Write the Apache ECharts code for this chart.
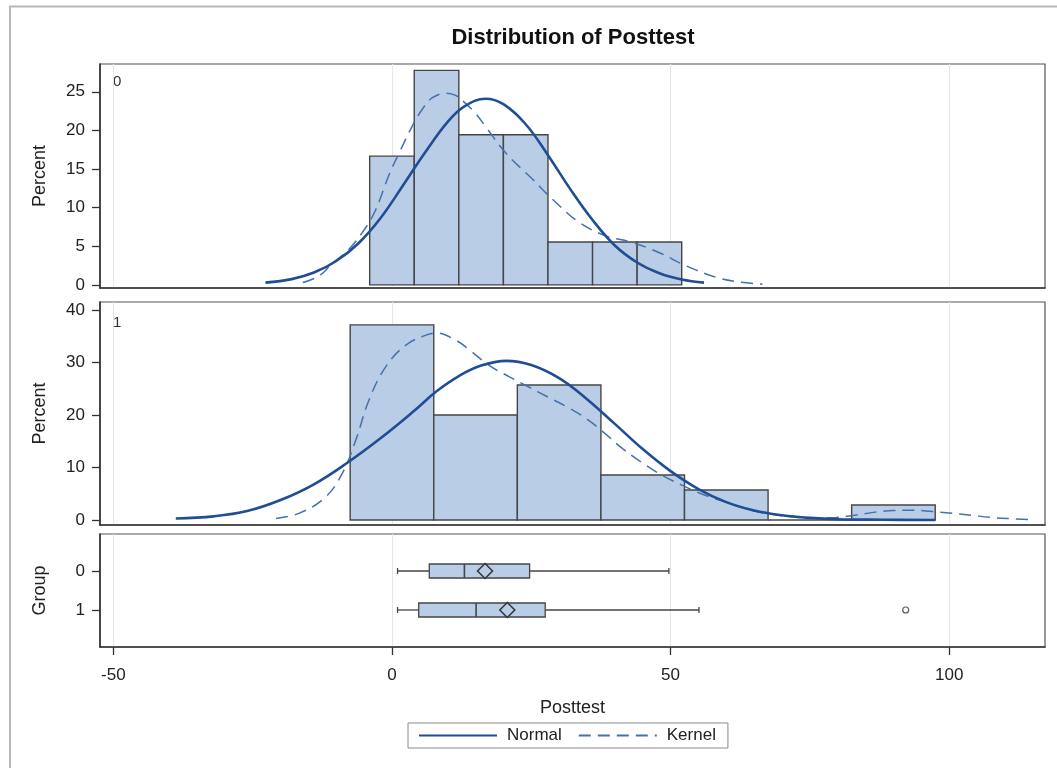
<!DOCTYPE html>
<html>
<head>
<meta charset="utf-8">
<title>Distribution of Posttest</title>
<script src="https://cdn.jsdelivr.net/npm/echarts@6/dist/echarts.min.js"></script>
<style>
  html, body { margin: 0; padding: 0; background: #ffffff; }
  #chart { width: 1057px; height: 768px; }
</style>
</head>
<body>
<div id="chart"></div>
<script>
// ---- data ----
const xTicks = [-50, 0, 50, 100];

// Group 0 histogram: bin edges (width 8) and percent per bin
const binEdges0 = [-4, 4, 12, 20, 28, 36, 44, 52];
const percent0 = [16.67, 27.78, 19.44, 19.44, 5.56, 5.56, 5.56];
// Group 1 histogram: bin edges (width 15) and percent per bin
const binEdges1 = [-7.5, 7.5, 22.5, 37.5, 52.5, 67.5, 82.5, 97.5];
const percent1 = [37.14, 20.0, 25.71, 8.57, 5.71, 0, 2.86];

const yTicks0 = [0, 5, 10, 15, 20, 25];
const yTicks1 = [0, 10, 20, 30, 40];

// Fitted normal curve, group 0 [x, percent]
const normal0 = [[-22.7,0.3],[-18,0.75],[-14,1.6],[-10,3.1],[-6,5.4],[-2,8.7],[2,12.9],[6,17.2],[10,21.1],[13,23.1],[16.8,24.1],[20,23.4],[24,20.8],[28,16.8],[32,12.4],[36,8.4],[40,5.1],[44,2.9],[48,1.5],[52,0.7],[56,0.3]];
// Kernel density estimate, group 0
const kernel0 = [[-16,0.3],[-13,1.2],[-10.7,2.8],[-8,4.4],[-5.3,6.8],[-3,9.6],[-0.5,14.3],[1.3,17.1],[3.6,20.5],[5.5,22.8],[7.2,24.2],[9.6,24.8],[11.5,24.5],[13.2,23.5],[15,22.2],[16.8,20.5],[20.4,17.1],[25.2,13.7],[28.8,11.1],[33.6,8.1],[38.4,6.35],[43.1,5.5],[47.9,4.2],[52.7,2.5],[58.1,1.0],[62,0.4],[66.5,0.1]];

// Fitted normal curve, group 1
const normal1 = [[-38.8,0.3],[-32,0.7],[-26,1.7],[-20,3.8],[-14,6.8],[-8,10.9],[-2,15.6],[4,20.8],[8,24.5],[12,27.4],[16,29.4],[20.5,30.3],[25,29.5],[30,27.0],[35,23.0],[40,18.3],[45,13.5],[50,9.3],[55,5.9],[60,3.4],[65,1.8],[70,0.9],[75,0.4],[80,0.15],[88,0.05],[97.5,0]];
// Kernel density estimate, group 1
const kernel1 = [[-20.8,0.3],[-16.6,1.3],[-11.9,4.4],[-8.9,8.9],[-6.5,15.2],[-4.1,22.9],[-1.1,29.2],[2.5,33.3],[6.1,35.2],[7.9,35.6],[11.5,34.2],[14,32.3],[17.5,29.4],[21,27.3],[24.4,25.4],[28,23.4],[31.3,21.6],[35,19.2],[38.2,16.5],[41.5,13.5],[45.2,10.7],[48.5,8.5],[52.1,6.6],[55.5,5.0],[59,3.7],[62.5,2.5],[65.9,1.5],[69.5,0.9],[72.8,0.5],[76,0.4],[79.7,0.5],[83,0.9],[86.7,1.5],[90,1.8],[93.6,1.85],[97,1.6],[100.5,1.3],[104,0.9],[107.4,0.5],[111,0.25],[114.3,0.1]];

// Box plot summaries per group: [group, min, q1, median, q3, max, mean]
const boxGroups = ['0', '1'];
const boxStats = [
  [0, 1.0, 6.7, 13.0, 24.7, 49.7, 16.7],
  [1, 1.0, 4.8, 15.1, 27.5, 55.1, 20.7]
];
const outliers = [[92.2, 1]];

// ---- styling ----
const FONT = "'Liberation Sans', Arial, Helvetica, sans-serif";
const BAR_FILL = '#b9cde6';
const EDGE = '#454545';
const NORMAL_COLOR = '#1f4e94';
const KERNEL_COLOR = '#4670ac';
const KERNEL_DASH = [12, 7];
const xMin = -52.4, xMax = 117.2;

function histData(edges, pct) {
  return pct.map((p, i) => [edges[i], edges[i + 1], p]);
}

function renderBin(params, api) {
  const lo = api.value(0), hi = api.value(1), h = api.value(2);
  const a = api.coord([lo, h]);
  const b = api.coord([hi, 0]);
  return {
    type: 'rect',
    shape: { x: a[0], y: a[1], width: b[0] - a[0], height: b[1] - a[1] },
    style: { fill: BAR_FILL, stroke: EDGE, lineWidth: 1.4 }
  };
}

function renderBox(params, api) {
  const g = api.value(0);
  const mn = api.value(1), q1 = api.value(2), med = api.value(3);
  const q3 = api.value(4), mx = api.value(5), mean = api.value(6);
  const pMin = api.coord([mn, g]), pQ1 = api.coord([q1, g]), pMed = api.coord([med, g]);
  const pQ3 = api.coord([q3, g]), pMax = api.coord([mx, g]), pMean = api.coord([mean, g]);
  const cy = pMin[1], hh = 7, cap = 3, d = 7.5;
  const ln = { stroke: EDGE, lineWidth: 1.3 };
  return {
    type: 'group',
    children: [
      { type: 'line', shape: { x1: pMin[0], y1: cy, x2: pQ1[0], y2: cy }, style: ln },
      { type: 'line', shape: { x1: pQ3[0], y1: cy, x2: pMax[0], y2: cy }, style: ln },
      { type: 'line', shape: { x1: pMin[0], y1: cy - cap, x2: pMin[0], y2: cy + cap }, style: ln },
      { type: 'line', shape: { x1: pMax[0], y1: cy - cap, x2: pMax[0], y2: cy + cap }, style: ln },
      { type: 'rect', shape: { x: pQ1[0], y: cy - hh, width: pQ3[0] - pQ1[0], height: 2 * hh },
        style: { fill: BAR_FILL, stroke: EDGE, lineWidth: 1.3 } },
      { type: 'line', shape: { x1: pMed[0], y1: cy - hh, x2: pMed[0], y2: cy + hh }, style: { stroke: EDGE, lineWidth: 1.6 } },
      { type: 'polygon', shape: { points: [[pMean[0] - d, cy], [pMean[0], cy - d], [pMean[0] + d, cy], [pMean[0], cy + d]] },
        style: { fill: BAR_FILL, stroke: '#333', lineWidth: 1.5 } }
    ]
  };
}

const labelStyle = { fontFamily: FONT, fontSize: 17, color: '#222' };
const nameStyle = { fontFamily: FONT, fontSize: 18, color: '#222' };

function xAxisFor(i) {
  const bottom = i === 2;
  return {
    type: 'value', gridIndex: i, min: xMin, max: xMax,
    name: bottom ? 'Posttest' : '',
    nameLocation: 'middle', nameGap: 52,
    nameTextStyle: nameStyle,
    axisLine: { show: true, onZero: false, lineStyle: { color: '#333', width: 1.6 } },
    axisTick: { show: bottom, customValues: xTicks, length: 8, lineStyle: { color: '#333', width: 1.3 } },
    axisLabel: Object.assign({ show: bottom, customValues: xTicks, margin: 20 }, labelStyle),
    splitLine: { show: true, lineStyle: { color: '#e7e7e7', width: 1 } }
  };
}

function yAxisFor(i, min, max, ticks, name, inverse) {
  return {
    type: 'value', gridIndex: i, min: min, max: max, inverse: !!inverse,
    name: name, nameLocation: 'middle', nameGap: 51, nameRotate: 90,
    nameTextStyle: nameStyle,
    axisLine: { show: true, onZero: false, lineStyle: { color: '#333', width: 1.6 } },
    axisTick: { show: true, customValues: ticks, length: 8, lineStyle: { color: '#333', width: 1.3 } },
    axisLabel: Object.assign({ customValues: ticks, margin: 15,
      formatter: v => (inverse ? boxGroups[v] : String(v)) }, labelStyle),
    splitLine: { show: false }
  };
}

const gridBase = { left: 100, right: 12, show: true, borderColor: '#555', borderWidth: 1.2, backgroundColor: 'transparent' };

const chart = echarts.init(document.getElementById('chart'), null, { renderer: 'canvas' });
chart.setOption({
  animation: false,
  backgroundColor: '#ffffff',
  textStyle: { fontFamily: FONT },
  grid: [
    Object.assign({ top: 64, height: 224 }, gridBase),
    Object.assign({ top: 302, height: 223 }, gridBase),
    Object.assign({ top: 534, height: 113 }, gridBase)
  ],
  xAxis: [xAxisFor(0), xAxisFor(1), xAxisFor(2)],
  yAxis: [
    yAxisFor(0, -0.4, 28.6, yTicks0, 'Percent'),
    yAxisFor(1, -0.95, 41.5, yTicks1, 'Percent'),
    yAxisFor(2, -0.95, 1.95, [0, 1], 'Group', true)
  ],
  legend: {
    data: ['Normal', 'Kernel'],
    left: 408, top: 723,
    itemWidth: 78, itemHeight: 12, itemGap: 16,
    padding: [4, 12, 4, 10],
    itemStyle: { opacity: 0 },
    borderColor: '#8a8a8a', borderWidth: 1,
    textStyle: { fontFamily: FONT, fontSize: 17, color: '#222', padding: [0, 0, 0, 5] }
  },
  graphic: [
    { type: 'rect', shape: { x: 10, y: 6.5, width: 1100, height: 800 },
      style: { fill: 'none', stroke: '#b8b8b8', lineWidth: 2 }, silent: true },
    { type: 'text', x: 573, y: 38,
      style: { text: 'Distribution of Posttest', fontFamily: FONT, fontSize: 22, fontWeight: 'bold',
        fill: '#111', align: 'center', verticalAlign: 'middle' } },
    { type: 'text', x: 113, y: 82,
      style: { text: '0', fontFamily: FONT, fontSize: 15, fill: '#333', verticalAlign: 'middle' } },
    { type: 'text', x: 113, y: 323,
      style: { text: '1', fontFamily: FONT, fontSize: 15, fill: '#333', verticalAlign: 'middle' } }
  ],
  series: [
    { type: 'custom', name: 'Histogram 0', xAxisIndex: 0, yAxisIndex: 0, renderItem: renderBin,
      data: histData(binEdges0, percent0), encode: { x: [0, 1], y: 2 }, z: 2 },
    { type: 'custom', name: 'Histogram 1', xAxisIndex: 1, yAxisIndex: 1, renderItem: renderBin,
      data: histData(binEdges1, percent1), encode: { x: [0, 1], y: 2 }, z: 2 },
    { type: 'line', name: 'Normal', xAxisIndex: 0, yAxisIndex: 0, data: normal0, smooth: 0.4,
      showSymbol: false, symbol: 'none', lineStyle: { color: NORMAL_COLOR, width: 2.6 }, itemStyle: { color: NORMAL_COLOR }, z: 4 },
    { type: 'line', name: 'Kernel', xAxisIndex: 0, yAxisIndex: 0, data: kernel0, smooth: 0.4,
      showSymbol: false, symbol: 'none', lineStyle: { color: KERNEL_COLOR, width: 1.5, type: KERNEL_DASH }, itemStyle: { color: KERNEL_COLOR }, z: 3 },
    { type: 'line', name: 'Normal', xAxisIndex: 1, yAxisIndex: 1, data: normal1, smooth: 0.4,
      showSymbol: false, symbol: 'none', lineStyle: { color: NORMAL_COLOR, width: 2.6 }, itemStyle: { color: NORMAL_COLOR }, z: 4 },
    { type: 'line', name: 'Kernel', xAxisIndex: 1, yAxisIndex: 1, data: kernel1, smooth: 0.4,
      showSymbol: false, symbol: 'none', lineStyle: { color: KERNEL_COLOR, width: 1.5, type: KERNEL_DASH }, itemStyle: { color: KERNEL_COLOR }, z: 3 },
    { type: 'custom', name: 'Box', xAxisIndex: 2, yAxisIndex: 2, renderItem: renderBox,
      data: boxStats, encode: { x: [1, 2, 3, 4, 5, 6], y: 0 }, z: 3 },
    { type: 'scatter', name: 'Outlier', xAxisIndex: 2, yAxisIndex: 2, data: outliers,
      symbol: 'circle', symbolSize: 6, itemStyle: { color: '#ffffff', borderColor: '#333', borderWidth: 1.2 }, z: 3 }
  ]
});
</script>
</body>
</html>
